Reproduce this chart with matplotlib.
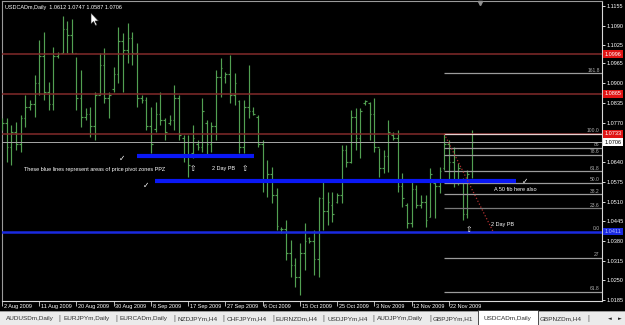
import matplotlib
matplotlib.use("Agg")
import matplotlib.pyplot as plt
from matplotlib.transforms import blended_transform_factory, IdentityTransform
from matplotlib.patches import Rectangle, Polygon

# ---------------- data ----------------
chart_title = "USDCADm,Daily  1.0612 1.0747 1.0587 1.0706"

opens = [1.0760, 1.0770, 1.0690, 1.0740, 1.0700, 1.0785, 1.0820, 1.0830, 1.0900, 1.0990,
         1.0870, 1.0830, 1.0990, 1.1000, 1.1080, 1.1060, 1.1000, 1.0850, 1.0790, 1.0800,
         1.0760, 1.0860, 1.0960, 1.0850, 1.0880, 1.0930, 1.1040, 1.1010, 1.1050, 1.1000,
         1.0850, 1.0845, 1.0760, 1.0750, 1.0800, 1.0780, 1.0770, 1.0780, 1.0850, 1.0720,
         1.0660, 1.0670, 1.0700, 1.0690, 1.0770, 1.0700, 1.0760, 1.0920, 1.0920, 1.0930,
         1.0860, 1.0840, 1.0690, 1.0820, 1.0810, 1.0790, 1.0700, 1.0580, 1.0600, 1.0530,
         1.0420, 1.0420, 1.0340, 1.0300, 1.0260, 1.0340, 1.0390, 1.0380, 1.0320, 1.0520,
         1.0480, 1.0500, 1.0510, 1.0530, 1.0680, 1.0640, 1.0790, 1.0720, 1.0835, 1.0835,
         1.0800, 1.0690, 1.0620, 1.0660, 1.0730, 1.0720, 1.0560, 1.0500, 1.0440, 1.0550,
         1.0500, 1.0510, 1.0460, 1.0570, 1.0560, 1.0620, 1.0700, 1.0640, 1.0580, 1.0580,
         1.0470, 1.0612]
highs = [1.0785, 1.0785, 1.0762, 1.0772, 1.0795, 1.0861, 1.0844, 1.0927, 1.1042, 1.1068,
         1.0904, 1.1019, 1.1002, 1.1121, 1.1105, 1.1111, 1.0986, 1.0943, 1.0818, 1.0821,
         1.0871, 1.0999, 1.1016, 1.0871, 1.0953, 1.1085, 1.1065, 1.1098, 1.1068, 1.1032,
         1.0861, 1.0854, 1.0821, 1.0838, 1.0871, 1.0785, 1.0795, 1.0894, 1.0861, 1.0729,
         1.0729, 1.0762, 1.0712, 1.0851, 1.0778, 1.0772, 1.0943, 1.0983, 1.0937, 1.0993,
         1.0933, 1.0844, 1.0844, 1.0960, 1.0821, 1.0795, 1.0712, 1.0647, 1.0623, 1.0554,
         1.0426, 1.0449, 1.0383, 1.0323, 1.0373, 1.0439, 1.0393, 1.0416, 1.0525, 1.0581,
         1.0541, 1.0541, 1.0538, 1.0696, 1.0696, 1.0811, 1.0818, 1.0818, 1.0844, 1.0838,
         1.0851, 1.0686, 1.0679, 1.0778, 1.0739, 1.0745, 1.0604, 1.0505, 1.0574, 1.0564,
         1.0531, 1.0531, 1.0620, 1.0581, 1.0623, 1.0733, 1.0712, 1.0689, 1.0637, 1.0587,
         1.0614, 1.0747]
lows = [1.0745, 1.0640, 1.0630, 1.0679, 1.0673, 1.0755, 1.0811, 1.0788, 1.0861, 1.0844,
        1.0811, 1.0811, 1.0983, 1.0999, 1.0999, 1.0999, 1.0811, 1.0755, 1.0778, 1.0722,
        1.0712, 1.0861, 1.0834, 1.0785, 1.0871, 1.0900, 1.0871, 1.0966, 1.0960, 1.0821,
        1.0834, 1.0745, 1.0670, 1.0739, 1.0762, 1.0712, 1.0762, 1.0745, 1.0712, 1.0640,
        1.0590, 1.0653, 1.0679, 1.0673, 1.0656, 1.0673, 1.0712, 1.0854, 1.0900, 1.0834,
        1.0828, 1.0670, 1.0670, 1.0785, 1.0795, 1.0689, 1.0541, 1.0525, 1.0505, 1.0416,
        1.0406, 1.0317, 1.0261, 1.0228, 1.0201, 1.0284, 1.0373, 1.0268, 1.0261, 1.0416,
        1.0432, 1.0442, 1.0505, 1.0505, 1.0623, 1.0637, 1.0679, 1.0653, 1.0828, 1.0712,
        1.0673, 1.0590, 1.0604, 1.0607, 1.0712, 1.0541, 1.0492, 1.0422, 1.0426, 1.0488,
        1.0488, 1.0426, 1.0459, 1.0455, 1.0538, 1.0614, 1.0570, 1.0557, 1.0564, 1.0449,
        1.0455, 1.0587]
closes = [1.0770, 1.0690, 1.0740, 1.0700, 1.0785, 1.0820, 1.0830, 1.0900, 1.0990, 1.0870,
          1.0830, 1.0990, 1.0995, 1.1080, 1.1060, 1.1000, 1.0850, 1.0790, 1.0800, 1.0760,
          1.0860, 1.0960, 1.0850, 1.0860, 1.0930, 1.1040, 1.1010, 1.1050, 1.1000, 1.0850,
          1.0845, 1.0760, 1.0700, 1.0800, 1.0780, 1.0740, 1.0780, 1.0850, 1.0730, 1.0660,
          1.0630, 1.0720, 1.0690, 1.0810, 1.0700, 1.0760, 1.0920, 1.0950, 1.0930, 1.0860,
          1.0900, 1.0690, 1.0820, 1.0810, 1.0800, 1.0700, 1.0580, 1.0600, 1.0530, 1.0430,
          1.0420, 1.0340, 1.0300, 1.0260, 1.0340, 1.0380, 1.0380, 1.0320, 1.0520, 1.0480,
          1.0510, 1.0470, 1.0530, 1.0680, 1.0640, 1.0790, 1.0720, 1.0810, 1.0840, 1.0800,
          1.0690, 1.0620, 1.0660, 1.0740, 1.0720, 1.0560, 1.0520, 1.0440, 1.0550, 1.0500,
          1.0510, 1.0450, 1.0600, 1.0560, 1.0610, 1.0700, 1.0640, 1.0580, 1.0620, 1.0470,
          1.0600, 1.0706]

date_tick_bars = [0, 8, 16, 24, 32, 40, 48, 56, 64, 72, 80, 88, 96]
date_labels = ["2 Aug 2009", "11 Aug 2009", "20 Aug 2009", "30 Aug 2009", "8 Sep 2009",
               "17 Sep 2009", "27 Sep 2009", "6 Oct 2009", "15 Oct 2009", "25 Oct 2009",
               "3 Nov 2009", "12 Nov 2009", "22 Nov 2009"]
price_ticks = [1.1155, 1.1090, 1.1025, 1.0965, 1.0900, 1.0835, 1.0770, 1.0640,
               1.0575, 1.0510, 1.0445, 1.0380, 1.0315, 1.0250, 1.0185]

resistance_levels = [1.0996, 1.0865, 1.0733]
bid_price = 1.0706
support_level = 1.0411
zone_upper = 1.0660       # short blue PPZ line
zone_upper_span = (29.0, 54.1)
zone_mid = 1.0576         # long blue PPZ line
zone_mid_span = (32.9, 110.4)

fib_start_bar = 95
fib_high = 1.0733
fib_low = 1.0411
fib_levels = [161.8, 100.0, 86.0, 78.6, 61.8, 50.0, 38.2, 23.6, 0.0, -27.0, -61.8]
fib_texts = ["161.8", "100.0", "86", "78.6", "61.8", "50.0", "38.2", "23.6", "0.0", "27", "61.8"]
trend_start = (95, 1.0733)
trend_end = (105.5, 1.0411)

tab_names = ["AUDUSDm,Daily", "EURJPYm,Daily", "EURCADm,Daily", "NZDJPYm,H4", "CHFJPYm,H4",
             "EURNZDm,H4", "USDJPYm,H4", "AUDJPYm,Daily", "GBPJPYm,H1", "USDCADm,Daily",
             "GBPNZDm,H4"]
active_tab = "USDCADm,Daily"

# ---------------- layout ----------------
W, H = 625, 325
fig = plt.figure(figsize=(W / 100, H / 100), dpi=100, facecolor="black")
ax_left, ax_right, ax_top, ax_bot = 2, 602, 1, 301
ax = fig.add_axes([ax_left / W, (H - ax_bot) / H, (ax_right - ax_left) / W, (ax_bot - ax_top) / H])
ax.set_facecolor("black")
ax.set_xlim(0, 128.9)
ax.set_ylim(1.0182, 1.1171)

FONT = "Liberation Sans"
FS = 4.0
bar_color = "#52a052"

# OHLC bars
idx = list(range(len(opens)))
ax.vlines(idx, lows, highs, color=bar_color, lw=0.85, zorder=3)
ax.hlines(opens, [i - 0.35 for i in idx], idx, color=bar_color, lw=0.85, zorder=3)
ax.hlines(closes, idx, [i + 0.35 for i in idx], color=bar_color, lw=0.85, zorder=3)

# horizontal objects
for lvl in resistance_levels:
    ax.axhline(lvl, color="#822a2a", lw=1.1, zorder=4)
ax.axhline(bid_price, color="#a8a8a8", lw=0.7, zorder=4)
ax.axhline(support_level, color="#1a2ae0", lw=1.8, zorder=4)
ax.hlines(zone_upper, *zone_upper_span, color="#0a18f5", lw=3.0, zorder=5)
ax.hlines(zone_mid, *zone_mid_span, color="#0a18f5", lw=3.0, zorder=5)

# fibonacci
xmax = ax.get_xlim()[1]
for lv, txt in zip(fib_levels, fib_texts):
    p = fib_low + (fib_high - fib_low) * lv / 100.0
    col = "#e8d0d0" if lv == 100.0 else ("#7a7a7a" if lv == 23.6 else "#9c9c9c")
    if lv != 0.0:
        ax.hlines(p, fib_start_bar, xmax, color=col, lw=0.9, zorder=4)
    ax.text(xmax - 0.5, p + 0.0002, txt, color="#b0b0b0", fontsize=3.6, family=FONT,
            ha="right", va="bottom", zorder=6)
ax.plot([trend_start[0], trend_end[0]], [trend_start[1], trend_end[1]],
        color="#b03030", lw=0.9, ls=(0, (1, 1.6)), zorder=6)

# annotations
tc = "white"
ax.text(0.005, 0.985, chart_title, transform=ax.transAxes, color=tc, fontsize=FS,
        family=FONT, ha="left", va="top")
ax.text(4.7, 1.0617, "These blue lines represent areas of price pivot zones PPZ",
        color=tc, fontsize=FS, family=FONT, ha="left", va="center", zorder=7)
ax.text(45.1, 1.0620, "2 Day PB", color=tc, fontsize=FS, family=FONT, ha="left", va="center", zorder=7)
ax.text(105.7, 1.0551, "A 50 fib here also", color=tc, fontsize=FS, family=FONT,
        ha="left", va="center", zorder=7)
ax.text(105.0, 1.0435, "2 Day PB", color=tc, fontsize=FS, family=FONT, ha="left", va="center", zorder=7)
for (xx, yy) in [(25.8, 1.0653), (30.9, 1.0564), (112.3, 1.0577)]:
    ax.text(xx, yy, "\u2713", color=tc, fontsize=5.5, family="DejaVu Sans",
            ha="center", va="center", zorder=7)
for (xx, yy) in [(41.0, 1.0620), (52.2, 1.0620), (100.3, 1.0419)]:
    ax.text(xx, yy, "\u21e7", color=tc, fontsize=5.5, family="DejaVu Sans",
            ha="center", va="center", zorder=7)

# shift marker
ax.plot([0.797], [0.992], marker="v", ms=3, color="#909090", transform=ax.transAxes,
        clip_on=False, zorder=8)

# spines
for s in ["left", "top"]:
    ax.spines[s].set_color("#9a9a9a")
for s in ["right", "bottom"]:
    ax.spines[s].set_color("#d8d8d8")
for s in ax.spines.values():
    s.set_linewidth(0.8)

# price axis
ax.yaxis.tick_right()
ax.set_yticks(price_ticks)
ax.set_yticklabels([f"{p:.4f}" for p in price_ticks])
ax.tick_params(axis="y", colors="white", length=2, width=0.6, pad=1.5, labelsize=FS)
for lab in ax.get_yticklabels():
    lab.set_family(FONT)

# price boxes
ytr = blended_transform_factory(ax.transAxes, ax.transData)
for lvl in resistance_levels:
    ax.text(1.004, lvl, f"{lvl:.4f}", transform=ytr, color="white", fontsize=FS, family=FONT,
            ha="left", va="center", clip_on=False, zorder=9,
            bbox=dict(boxstyle="square,pad=0.25", fc="#e01515", ec="none"))
ax.text(1.004, bid_price, f"{bid_price:.4f}", transform=ytr, color="black", fontsize=FS,
        family=FONT, ha="left", va="center", clip_on=False, zorder=9,
        bbox=dict(boxstyle="square,pad=0.25", fc="white", ec="none"))
ax.text(1.004, support_level, f"{support_level:.4f}", transform=ytr, color="#b0b8ff",
        fontsize=FS, family=FONT, ha="left", va="center", clip_on=False, zorder=9,
        bbox=dict(boxstyle="square,pad=0.25", fc="#1a2ae0", ec="none"))

# date axis
ax.set_xticks(date_tick_bars)
ax.set_xticklabels([""] * len(date_tick_bars))
ax.tick_params(axis="x", colors="#d8d8d8", length=3.5, width=0.6, direction="out")
xtr = blended_transform_factory(ax.transData, ax.transAxes)
for b, lab in zip(date_tick_bars, date_labels):
    ax.text(b + 0.35, -0.018, lab, transform=xtr, color="white", fontsize=FS, family=FONT,
            ha="left", va="center", clip_on=False)

# mouse cursor
tip = (91, H - 13)
shape = [(0, 0), (0, -11), (2.5, -8.5), (4.5, -12.5), (6, -12), (4, -8), (7.5, -8)]
fig.patches.append(Polygon([(tip[0] + dx, tip[1] + dy) for dx, dy in shape], closed=True,
                           fc="white", ec="#202020", lw=0.4, transform=IdentityTransform()))

# tab bar
bar_h = 14
fig.patches.append(Rectangle((0, 0), 1, bar_h / H, transform=fig.transFigure,
                             fc="#ebebeb", ec="none"))
fig.patches.append(Rectangle((0, bar_h / H - 0.002), 1, 0.003, transform=fig.transFigure,
                             fc="#9a9a9a", ec="none"))
tab_centers = [29.5, 86.5, 144, 197.5, 247, 297, 347.5, 400, 453, 507, 561]
seps = [59, 116, 174, 223, 273, 323, 373, 430, 588]
for name, cx in zip(tab_names, tab_centers):
    if name == active_tab:
        fig.patches.append(Rectangle((478 / W, 0.5 / H), 60 / W, (bar_h + 0.5) / H,
                                     transform=fig.transFigure, fc="white", ec="#303030", lw=0.6))
    fig.text(cx / W, 6.5 / H, name, color="#303030", fontsize=4.6, family=FONT,
             ha="center", va="center")
for sx in seps:
    fig.text(sx / W, 6.5 / H, "|", color="#505050", fontsize=5, family=FONT,
             ha="center", va="center")
fig.text(610 / W, 6.5 / H, "\u25c4", color="#202020", fontsize=3.5, family="DejaVu Sans",
         ha="center", va="center")
fig.text(620 / W, 6.5 / H, "\u25ba", color="#202020", fontsize=3.5, family="DejaVu Sans",
         ha="center", va="center")

fig.savefig("out.png", dpi=100, facecolor="black")
